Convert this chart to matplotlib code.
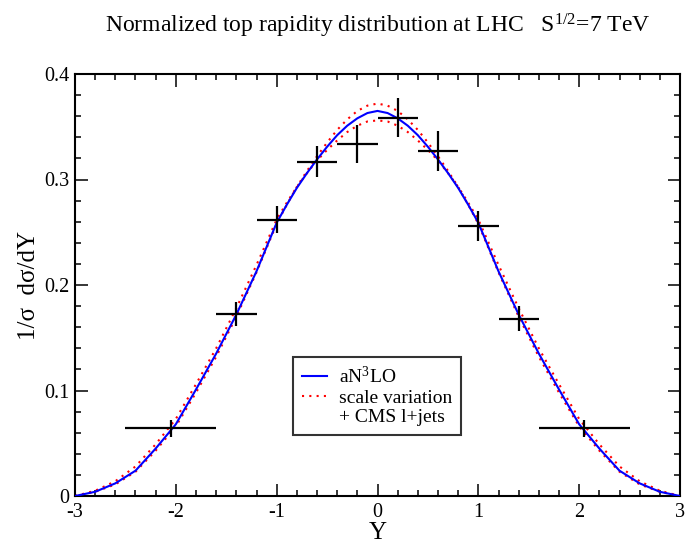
import matplotlib
matplotlib.use("Agg")
from matplotlib import pyplot as plt
from matplotlib.ticker import MultipleLocator
from matplotlib.lines import Line2D

plt.rcParams['font.family'] = ['Liberation Serif', 'DejaVu Serif']
plt.rcParams['mathtext.fontset'] = 'custom'
plt.rcParams['mathtext.rm'] = 'Liberation Serif'
plt.rcParams['mathtext.it'] = 'Liberation Serif:italic'
plt.rcParams['axes.unicode_minus'] = False

# theory curves (symmetric in Y)
y_grid = [-3.0, -2.8, -2.6, -2.4, -2.2, -2.0, -1.8, -1.6, -1.4, -1.2,
          -1.0, -0.9, -0.8, -0.7, -0.6, -0.5, -0.4, -0.3, -0.2, -0.1,
          0.0, 0.1, 0.2, 0.3, 0.4, 0.5, 0.6, 0.7, 0.8, 0.9,
          1.0, 1.2, 1.4, 1.6, 1.8, 2.0, 2.2, 2.4, 2.6, 2.8, 3.0]
an3lo = [0.0, 0.004, 0.012, 0.024, 0.045, 0.068, 0.101, 0.135, 0.172, 0.213,
         0.259, 0.276, 0.292, 0.306, 0.319, 0.331, 0.342, 0.351, 0.358, 0.363,
         0.365, 0.363, 0.358, 0.351, 0.342, 0.331, 0.319, 0.306, 0.292, 0.276,
         0.259, 0.213, 0.172, 0.135, 0.101, 0.068, 0.045, 0.024, 0.012, 0.004, 0.0]
scale_up = [0.0, 0.004, 0.011, 0.023, 0.043, 0.066, 0.098, 0.132, 0.170, 0.212,
            0.258, 0.276, 0.293, 0.308, 0.322, 0.335, 0.347, 0.357, 0.365, 0.370,
            0.372, 0.370, 0.365, 0.357, 0.347, 0.335, 0.322, 0.308, 0.293, 0.276,
            0.258, 0.212, 0.170, 0.132, 0.098, 0.066, 0.043, 0.023, 0.011, 0.004, 0.0]
scale_dn = [0.0, 0.005, 0.014, 0.028, 0.049, 0.073, 0.106, 0.140, 0.178, 0.219,
            0.262, 0.278, 0.293, 0.306, 0.318, 0.328, 0.337, 0.345, 0.351, 0.355,
            0.356, 0.355, 0.351, 0.345, 0.337, 0.328, 0.318, 0.306, 0.293, 0.278,
            0.262, 0.219, 0.178, 0.140, 0.106, 0.073, 0.049, 0.028, 0.014, 0.005, 0.0]

# CMS l+jets data
cms_y = [-2.05, -1.4, -1.0, -0.6, -0.2, 0.2, 0.6, 1.0, 1.4, 2.05]
cms_xerr = [0.45, 0.2, 0.2, 0.2, 0.2, 0.2, 0.2, 0.2, 0.2, 0.45]
cms_val = [0.064, 0.1725, 0.262, 0.3166, 0.334, 0.3586, 0.327, 0.256, 0.168, 0.064]
cms_err = [0.008, 0.0115, 0.013, 0.0147, 0.018, 0.0185, 0.019, 0.0145, 0.012, 0.008]

fig = plt.figure(figsize=(6.86, 5.43), dpi=100)
ax = fig.add_axes([75 / 686, 47 / 543, 605 / 686, 422 / 543])

ax.plot(y_grid, an3lo, color='#0000ff', lw=1.5, label='aN$^3$LO', zorder=3)
ax.plot(y_grid, scale_up, color='#ff0000', lw=1.5, ls=(0, (1, 2.5)),
        label='scale variation', zorder=2)
ax.plot(y_grid, scale_dn, color='#ff0000', lw=1.5, ls=(0, (1, 2.5)), zorder=2)
ax.errorbar(cms_y, cms_val, xerr=cms_xerr, yerr=cms_err, fmt='none',
            ecolor='black', elinewidth=1.6, capsize=0, zorder=4)

ax.set_xlim(-3, 3)
ax.set_ylim(0, 0.4)
ax.xaxis.set_major_locator(MultipleLocator(1))
ax.xaxis.set_minor_locator(MultipleLocator(0.2))
ax.yaxis.set_major_locator(MultipleLocator(0.1))
ax.yaxis.set_minor_locator(MultipleLocator(0.02))
ax.set_yticks([0, 0.1, 0.2, 0.3, 0.4])
ax.set_yticklabels(['0', '0.1', '0.2', '0.3', '0.4'])
ax.tick_params(which='both', direction='in', top=True, right=True,
               labelsize=14.5, width=1.1)
ax.tick_params(axis='x', which='both', pad=5)
ax.tick_params(axis='y', which='both', pad=4)
ax.tick_params(which='major', length=9)
ax.tick_params(which='minor', length=4.5)
for s in ax.spines.values():
    s.set_linewidth(1.5)

ax.set_xlabel('Y', fontsize=18, labelpad=0)
ax.set_ylabel('1/σ  dσ/dY', fontsize=18, labelpad=3)

fig.text(378 / 686, 1 - 32 / 543,
         'Normalized top rapidity distribution at LHC   S$^{1/2}$=7 TeV',
         ha='center', va='baseline', fontsize=17)

handles, labels = ax.get_legend_handles_labels()
handles.append(Line2D([], [], color='none'))
labels.append('+ CMS l+jets')
leg = ax.legend(handles, labels, loc='upper left', bbox_to_anchor=(0.36, 0.329),
                fontsize=14, frameon=True, fancybox=False, edgecolor='black',
                handlelength=1.3, handletextpad=0.65, labelspacing=0.1,
                borderpad=0.45, borderaxespad=0)
leg.get_frame().set_linewidth(1.5)

fig.savefig('out.png', dpi=100)
